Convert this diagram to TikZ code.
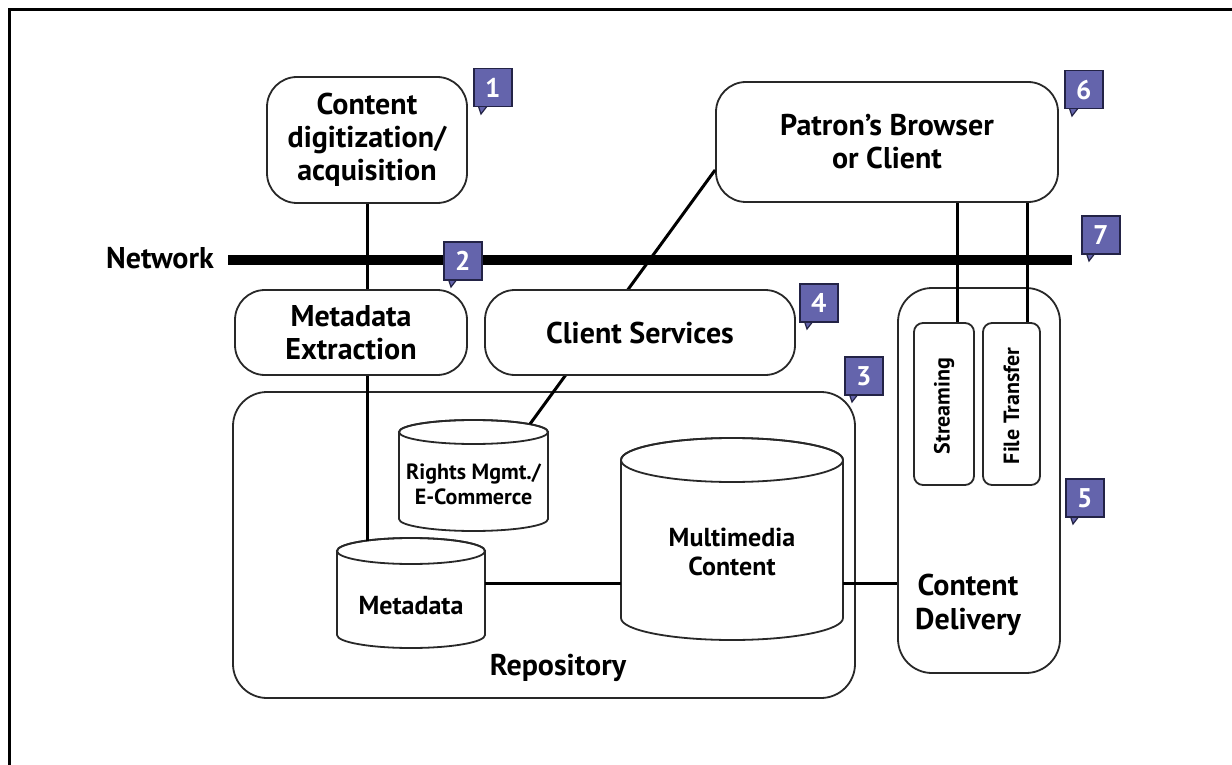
\documentclass[tikz,border=0pt]{standalone}
\usepackage{fontspec}
\setmainfont{PT Sans}
\usetikzlibrary{calc}
\definecolor{badgefill}{RGB}{100,100,172}
\definecolor{badgeline}{RGB}{35,35,70}
\definecolor{boxline}{RGB}{40,40,40}
\tikzset{
  box/.style={draw=boxline, line width=1.8pt, rounded corners=30pt, fill=white,
    align=center, inner sep=0pt, font=\fontsize{30}{33}\selectfont\bfseries},
  frame/.style={draw=boxline, line width=1.8pt, rounded corners=34pt, inner sep=0pt},
  slot/.style={draw=boxline, line width=1.8pt, rounded corners=9pt, fill=white, inner sep=0pt},
  conn/.style={line width=3pt, black},
  net/.style={line width=10pt, black},
  cyl/.style={draw=boxline, line width=1.8pt, fill=white},
  lbl/.style={inner sep=0pt, align=center, font=\fontsize{30}{34}\selectfont\bfseries},
  badgebox/.style={fill=badgefill, draw=badgeline, line width=1.5pt, text=white,
    minimum size=38pt, inner sep=0pt, font=\fontsize{27}{27}\selectfont\bfseries},
}
% #1 name, #2 x-left, #3 y-top of square, #4 number
\newcommand{\mybadge}[4]{%
  \fill[badgefill, draw=badgeline, line width=1.2pt] (#2+5,#3+37) -- (#2+8,#3+46) -- (#2+15,#3+37) -- cycle;
  \node[badgebox, anchor=north west] (#1) at (#2,#3) {#4};
}
% #1 x-left, #2 x-right, #3 y-top, #4 y-bottom, #5 ry
\newcommand{\mycyl}[5]{%
  \pgfmathsetmacro{\rxx}{(#2-#1)/2}
  \path[cyl] (#1,#3+#5) -- (#1,#4-#5)
     arc[start angle=180, end angle=360, x radius=\rxx pt, y radius=#5 pt]
     -- (#2,#3+#5)
     arc[start angle=0, end angle=180, x radius=\rxx pt, y radius=#5 pt] -- cycle;
  \draw[draw=boxline, line width=1.8pt] ({(#1+#2)/2},#3+#5) ellipse[x radius=\rxx pt, y radius=#5 pt];
}
\begin{document}
\begin{tikzpicture}[x=1pt,y=-1pt]
\useasboundingbox (0,0) rectangle (1232,765);
\fill[white] (0,0) rectangle (1232,765);
% outer frame (top and left edges)
\draw[line width=3pt] (9,765) -- (9,10) -- (1232,10);

% containers (unfilled)
\node[frame, minimum width=622pt, minimum height=306pt] (repo) at (544,545) {};
\node[frame, minimum width=162pt, minimum height=385pt] (cdel) at (979,480.5) {};
\node[lbl] (repolbl) at (558,668) {Repository};
\node[lbl] (cdellbl) at (968,605) {Content\\Delivery};

% named helper coordinates
\coordinate (lk) at (0,583);
\coordinate (mdtop) at (367,541);
\coordinate (rmtop) at (530,424);

% cylinders
\mycyl{337}{485}{538}{648}{13}
\node[inner sep=0pt, minimum width=148pt, minimum height=110pt] (mdcyl) at (411,593) {};
\node[lbl, font=\fontsize{26}{30}\selectfont\bfseries] (mdlbl) at (411,606) {Metadata};

\mycyl{399}{548}{420}{531}{12}
\node[inner sep=0pt, minimum width=149pt, minimum height=111pt] (rmcyl) at (473.5,475.5) {};
\node[lbl, font=\fontsize{22}{25}\selectfont\bfseries] (rmlbl) at (473.5,484) {Rights Mgmt./\\E-Commerce};

\mycyl{621}{843}{438}{640}{22}
\node[inner sep=0pt, minimum width=222pt, minimum height=202pt] (mmcyl) at (732,539) {};
\node[lbl, font=\fontsize{26}{29}\selectfont\bfseries] (mmlbl) at (732,552) {Multimedia\\Content};

% top boxes
\node[box, minimum width=200pt, minimum height=126pt] (cd) at (367,140) {Content\\digitization/\\acquisition};
\node[box, minimum width=342pt, minimum height=120pt] (patron) at (887,142) {Patron’s Browser\\or Client};

% connectors
\draw[conn] (cd.south) -- (mdtop);
\coordinate (pstart) at ($(patron.west)+(0,28)$);
\draw[conn] (pstart) -- (rmtop);
\draw[conn] (mdcyl.east |- lk) -- (mmcyl.west |- lk);
\draw[conn] (mmcyl.east |- lk) -- (cdel.west |- lk);

% streaming / file transfer
\node[slot, minimum width=60pt, minimum height=162pt] (stream) at (944,404) {};
\node[slot, minimum width=57pt, minimum height=162pt] (ftrans) at (1011.5,404) {};
\node[lbl, rotate=90, font=\fontsize{22}{24}\selectfont\bfseries] (streamlbl) at (944,406) {Streaming};
\node[lbl, rotate=90, font=\fontsize{22}{24}\selectfont\bfseries] (ftranslbl) at (1011.5,406) {File Transfer};
\coordinate (s1) at ($(stream.north)+(13,0)$);
\coordinate (f1) at ($(ftrans.north)+(16,0)$);
\draw[conn] (s1) -- (s1 |- patron.south);
\draw[conn] (f1) -- (f1 |- patron.south);

% middle boxes (over connectors)
\node[box, minimum width=232pt, minimum height=85pt] (mdx) at (351,332.5) {Metadata\\Extraction};
\node[box, minimum width=310pt, minimum height=85pt] (cs) at (640,332.5) {Client Services};

% network
\node[lbl, anchor=east] (netlbl) at (214,258) {Network};
\coordinate (netA) at (228,260);
\coordinate (netB) at (1072,260);
\draw[net] (netA) -- (netB);

% badges
\mybadge{b1}{473}{68}{1}
\mybadge{b2}{443}{241}{2}
\mybadge{b3}{844}{356}{3}
\mybadge{b4}{799}{283}{4}
\mybadge{b5}{1065}{478}{5}
\mybadge{b6}{1064}{70}{6}
\mybadge{b7}{1081}{215}{7}
\end{tikzpicture}
\end{document}
